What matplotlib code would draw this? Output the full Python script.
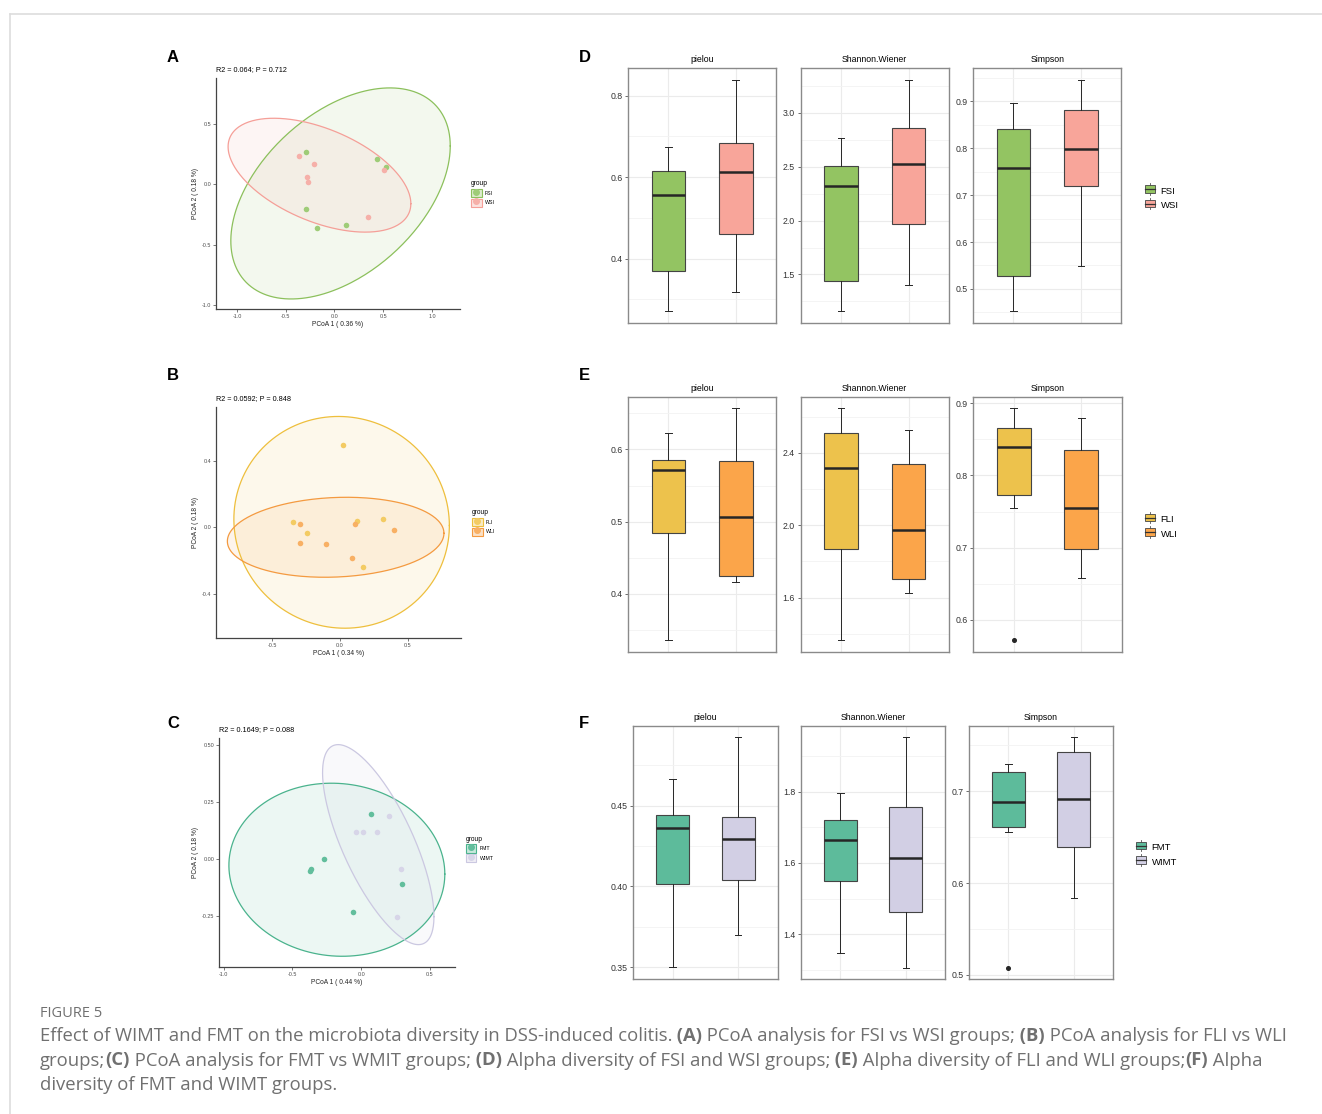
import numpy as np
import matplotlib
matplotlib.use("Agg")
import matplotlib.pyplot as plt
from matplotlib.colors import to_rgba
from matplotlib.patches import Patch, Rectangle
from matplotlib.lines import Line2D
from matplotlib.legend_handler import HandlerBase
from matplotlib.ticker import MultipleLocator, AutoMinorLocator, FormatStrFormatter

plt.rcParams.update({
    "font.family": ["Liberation Sans", "DejaVu Sans"],
    "axes.unicode_minus": False,
})

W, H = 1322, 1114

# ---------------- PCoA data ----------------
A_FSI_X = [-0.294, 0.438, 0.527, -0.297, -0.178, 0.116]
A_FSI_Y = [0.267, 0.207, 0.143, -0.207, -0.361, -0.342]
A_WSI_X = [-0.359, -0.215, -0.280, -0.274, 0.509, 0.342]
A_WSI_Y = [0.232, 0.165, 0.061, 0.019, 0.121, -0.276]
# ellipse: centre x, centre y, half-width, half-height, tilt (correlation)
A_FSI_ELL = [0.062, -0.077, 1.125, 0.873, 0.45]
A_WSI_ELL = [-0.154, 0.074, 0.937, 0.471, -0.5]

B_FLI_X = [0.022, -0.350, -0.241, 0.123, 0.315, 0.167]
B_FLI_Y = [0.496, 0.034, -0.036, 0.040, 0.048, -0.241]
B_WLI_X = [-0.296, -0.296, -0.103, 0.111, 0.399, 0.089]
B_WLI_Y = [0.018, -0.096, -0.098, 0.020, -0.018, -0.183]
B_FLI_ELL = [0.012, 0.030, 0.796, 0.638, -0.03]
B_WLI_ELL = [-0.032, -0.060, 0.800, 0.241, 0.1]

C_FMT_X = [0.068, -0.272, -0.367, -0.371, 0.299, -0.063]
C_FMT_Y = [0.199, 0.001, -0.042, -0.054, -0.111, -0.231]
C_WIMT_X = [0.201, -0.036, 0.012, 0.117, 0.289, 0.257]
C_WIMT_Y = [0.187, 0.117, 0.117, 0.117, -0.044, -0.255]
C_FMT_ELL = [-0.177, -0.047, 0.785, 0.379, -0.05]
C_WIMT_ELL = [0.124, 0.063, 0.405, 0.438, -0.72]

# ---------------- alpha diversity (whislo, q1, median, q3, whishi) ----------------
D_PIELOU_FSI = [0.271, 0.369, 0.557, 0.615, 0.675]
D_PIELOU_WSI = [0.318, 0.461, 0.612, 0.684, 0.839]
D_SHANNON_FSI = [1.162, 1.437, 2.322, 2.510, 2.767]
D_SHANNON_WSI = [1.403, 1.966, 2.520, 2.854, 3.305]
D_SIMPSON_FSI = [0.453, 0.528, 0.758, 0.842, 0.896]
D_SIMPSON_WSI = [0.548, 0.719, 0.798, 0.881, 0.946]

E_PIELOU_FLI = [0.336, 0.484, 0.571, 0.586, 0.623]
E_PIELOU_WLI = [0.417, 0.425, 0.507, 0.584, 0.658]
E_SHANNON_FLI = [1.366, 1.869, 2.317, 2.509, 2.651]
E_SHANNON_WLI = [1.624, 1.703, 1.974, 2.337, 2.525]
E_SIMPSON_FLI = [0.755, 0.773, 0.840, 0.865, 0.894]
E_SIMPSON_WLI = [0.658, 0.698, 0.755, 0.835, 0.879]
E_SIMPSON_FLI_OUT = [0.572]

F_PIELOU_FMT = [0.3499, 0.4014, 0.4363, 0.4443, 0.4666]
F_PIELOU_WIMT = [0.3699, 0.4041, 0.4293, 0.4429, 0.4922]
F_SHANNON_FMT = [1.348, 1.549, 1.665, 1.721, 1.796]
F_SHANNON_WIMT = [1.306, 1.462, 1.615, 1.756, 1.953]
F_SIMPSON_FMT = [0.6552, 0.6613, 0.6886, 0.7212, 0.7292]
F_SIMPSON_WIMT = [0.5837, 0.6396, 0.6915, 0.7430, 0.7586]
F_SIMPSON_FMT_OUT = [0.5078]

# colours
GREEN, PINK = "#93C462", "#F8A59A"
YELLOW, ORANGE = "#EDC24C", "#FBA54A"
TEAL, LAVENDER = "#5DBB9B", "#D2CFE4"

fig = plt.figure(figsize=(W / 100, H / 100), dpi=100)


def add_ax(l, t, r, b):
    return fig.add_axes([l / W, 1 - b / H, (r - l) / W, (b - t) / H])


def ellipse_xy(p, n=300):
    cx, cy, a, b, rho = p
    t = np.linspace(0, 2 * np.pi, n)
    x = cx + a * np.cos(t)
    y = cy + b * (rho * np.cos(t) + np.sqrt(1 - rho ** 2) * np.sin(t))
    return x, y


def plot_pcoa(ax, groups, title, xlab, ylab, xlim, ylim, xstep, ystep, yfmt, leg_y):
    for xs, ys, ell, pcol, lcol, lab in groups:
        ex, ey = ellipse_xy(ell)
        ax.fill(ex, ey, color=lcol, alpha=0.1, lw=0, zorder=1)
    for xs, ys, ell, pcol, lcol, lab in groups:
        ex, ey = ellipse_xy(ell)
        ax.plot(ex, ey, color=lcol, lw=0.9, zorder=2)
    for xs, ys, ell, pcol, lcol, lab in groups:
        ax.scatter(xs, ys, s=16, color=pcol, lw=0, zorder=3)
    ax.set_xlim(*xlim)
    ax.set_ylim(*ylim)
    ax.xaxis.set_major_locator(MultipleLocator(xstep))
    ax.yaxis.set_major_locator(MultipleLocator(ystep))
    ax.xaxis.set_major_formatter(FormatStrFormatter("%.1f"))
    ax.yaxis.set_major_formatter(FormatStrFormatter(yfmt))
    for s in ["top", "right"]:
        ax.spines[s].set_visible(False)
    for s in ["left", "bottom"]:
        ax.spines[s].set_color("#444444")
        ax.spines[s].set_linewidth(0.9)
    ax.tick_params(labelsize=3.9, length=2, width=0.5, color="#444444",
                   labelcolor="#4D4D4D", pad=1.5)
    ax.set_xlabel(xlab, fontsize=4.8, labelpad=1.5, color="#222222")
    ax.set_ylabel(ylab, fontsize=4.8, labelpad=2, color="#222222")
    ax.text(0, 1.02, title, transform=ax.transAxes, fontsize=5.2, ha="left", va="bottom")
    handles = [(Patch(fc=to_rgba(lcol, 0.3), ec=lcol, lw=0.8),
                Line2D([], [], marker="o", ls="", color=pcol, markersize=4))
               for xs, ys, ell, pcol, lcol, lab in groups]
    labels = [g[5] for g in groups]
    ax.legend(handles, labels, title="group", loc="center left",
              bbox_to_anchor=(1.03, leg_y), frameon=False, fontsize=3.8,
              title_fontsize=4.8, handlelength=2.0, handleheight=2.0,
              handletextpad=0.6, labelspacing=0.3, borderpad=0.2, alignment="left")


ax_a = add_ax(216, 78, 460, 309)
plot_pcoa(ax_a, [(A_FSI_X, A_FSI_Y, A_FSI_ELL, "#9FCC78", "#8CC05C", "FSI"),
                 (A_WSI_X, A_WSI_Y, A_WSI_ELL, "#F6B0A9", "#F59F98", "WSI")],
          "R2 = 0.064; P = 0.712", "PCoA 1 ( 0.36 %)", "PCoA 2 ( 0.18 %)",
          (-1.215, 1.287), (-1.033, 0.878), 0.5, 0.5, "%.1f", 0.5)

ax_b = add_ax(216, 407, 461, 638)
plot_pcoa(ax_b, [(B_FLI_X, B_FLI_Y, B_FLI_ELL, "#F3CB63", "#EEBF3D", "FLI"),
                 (B_WLI_X, B_WLI_Y, B_WLI_ELL, "#F8B064", "#F49A40", "WLI")],
          "R2 = 0.0592; P = 0.848", "PCoA 1 ( 0.34 %)", "PCoA 2 ( 0.18 %)",
          (-0.916, 0.894), (-0.667, 0.725), 0.5, 0.4, "%.1f", 0.5)

ax_c = add_ax(219, 738, 455, 967)
plot_pcoa(ax_c, [(C_FMT_X, C_FMT_Y, C_FMT_ELL, "#62BE9C", "#4AB38D", "FMT"),
                 (C_WIMT_X, C_WIMT_Y, C_WIMT_ELL, "#D7D5E8", "#CBC8E1", "WIMT")],
          "R2 = 0.1649; P = 0.088", "PCoA 1 ( 0.44 %)", "PCoA 2 ( 0.18 %)",
          (-1.034, 0.682), (-0.473, 0.530), 0.5, 0.25, "%.2f", 0.515)


# ---------------- boxplots ----------------
class BoxKey(HandlerBase):
    def create_artists(self, legend, orig, xd, yd, w, h, fontsize, trans):
        cx = xd + w / 2
        x0, x1 = xd + w * 0.1, xd + w * 0.9
        y0, y1 = yd + h * 0.05, yd + h * 0.95
        box = Rectangle((x0, y0), x1 - x0, y1 - y0, fc=orig.get_facecolor(),
                        ec="#444444", lw=0.6, transform=trans)
        med = Line2D([x0, x1], [yd + h / 2] * 2, color="#333333", lw=0.9, transform=trans)
        top = Line2D([cx, cx], [y1, y1 + h * 0.25], color="#555555", lw=0.6, transform=trans)
        bot = Line2D([cx, cx], [y0 - h * 0.25, y0], color="#555555", lw=0.6, transform=trans)
        return [top, bot, box, med]


def plot_box(ax, stats_a, stats_b, out_a, cols, name, ylim, major, fmt):
    stats = []
    for st, out in [(stats_a, out_a), (stats_b, [])]:
        stats.append(dict(whislo=st[0], q1=st[1], med=st[2], q3=st[3], whishi=st[4], fliers=out))
    bp = ax.bxp(stats, positions=[1, 2], widths=0.5, patch_artist=True, capwidths=0.1,
                boxprops=dict(ec="#444444", lw=0.8),
                medianprops=dict(color="#262626", lw=1.8),
                whiskerprops=dict(color="#262626", lw=0.7),
                capprops=dict(color="#262626", lw=0.7),
                flierprops=dict(marker="o", markersize=2.6, markerfacecolor="#262626",
                                markeredgecolor="#262626"))
    for patch, c in zip(bp["boxes"], cols):
        patch.set_facecolor(c)
    ax.set_xlim(0.4, 2.6)
    ax.set_ylim(*ylim)
    ax.yaxis.set_major_locator(MultipleLocator(major))
    ax.yaxis.set_minor_locator(AutoMinorLocator(2))
    ax.yaxis.set_major_formatter(FormatStrFormatter(fmt))
    ax.set_xticks([1, 2])
    ax.set_xticklabels([])
    ax.grid(True, which="major", color="#EBEBEB", lw=0.8)
    ax.grid(True, which="minor", axis="y", color="#F3F3F3", lw=0.6)
    ax.set_axisbelow(True)
    ax.tick_params(axis="x", length=0)
    ax.tick_params(axis="y", which="major", labelsize=6.3, length=2.5, width=0.6,
                   color="#555555", labelcolor="#333333", pad=1.5)
    ax.tick_params(axis="y", which="minor", length=0)
    for s in ax.spines.values():
        s.set_color("#8A8A8A")
        s.set_linewidth(1.0)
    ax.text(0.5, 1.032, name, transform=ax.transAxes, ha="center", va="center", fontsize=6.3)


def box_row(top, bottom, lefts, rights, data, cols, labels, ylims, majors, fmts, leg_y, leg_x):
    names = ["pielou", "Shannon.Wiener", "Simpson"]
    axes = []
    for i in range(3):
        ax = add_ax(lefts[i], top, rights[i], bottom)
        sa, sb, out = data[i]
        plot_box(ax, sa, sb, out, cols, names[i], ylims[i], majors[i], fmts[i])
        axes.append(ax)
    handles = [Patch(fc=c) for c in cols]
    fig.legend(handles, labels, loc="center left", bbox_to_anchor=(leg_x / W, 1 - leg_y / H),
               frameon=False, fontsize=6.8, handler_map={Patch: BoxKey()},
               handlelength=1.35, handleheight=0.95, handletextpad=0.45, labelspacing=0.55,
               borderpad=0.2)
    return axes


box_row(68, 322.7, [628, 800.5, 973], [776.3, 949, 1121.4],
        [(D_PIELOU_FSI, D_PIELOU_WSI, []), (D_SHANNON_FSI, D_SHANNON_WSI, []),
         (D_SIMPSON_FSI, D_SIMPSON_WSI, [])],
        [GREEN, PINK], ["FSI", "WSI"],
        [(0.243, 0.868), (1.053, 3.414), (0.428, 0.971)], [0.2, 0.5, 0.1],
        ["%.1f", "%.1f", "%.1f"], 198.5, 1137)

box_row(396.7, 651.7, [628, 800.5, 973], [776.3, 949, 1122],
        [(E_PIELOU_FLI, E_PIELOU_WLI, []), (E_SHANNON_FLI, E_SHANNON_WLI, []),
         (E_SIMPSON_FLI, E_SIMPSON_WLI, E_SIMPSON_FLI_OUT)],
        [YELLOW, ORANGE], ["FLI", "WLI"],
        [(0.320, 0.673), (1.301, 2.711), (0.556, 0.909)], [0.1, 0.4, 0.1],
        ["%.1f", "%.1f", "%.1f"], 527, 1137)

box_row(726, 979, [633.2, 801.2, 969.2], [777.5, 945, 1113],
        [(F_PIELOU_FMT, F_PIELOU_WIMT, []), (F_SHANNON_FMT, F_SHANNON_WIMT, []),
         (F_SIMPSON_FMT, F_SIMPSON_WIMT, F_SIMPSON_FMT_OUT)],
        [TEAL, LAVENDER], ["FMT", "WIMT"],
        [(0.3427, 0.4992), (1.274, 1.985), (0.4955, 0.7710)], [0.05, 0.2, 0.1],
        ["%.2f", "%.1f", "%.1f"], 855, 1128)

# panel letters
for letter, x, y in [("A", 173, 57), ("B", 173, 376), ("C", 173, 723),
                     ("D", 585, 57), ("E", 584, 376), ("F", 584, 723)]:
    fig.text(x / W, 1 - y / H, letter, fontsize=12, fontweight="bold", ha="center", va="center")

# frame lines of the page
fig.add_artist(Line2D([10 / W, 1], [1 - 14 / H] * 2, color="#DDDDDD", lw=1.2))
fig.add_artist(Line2D([10 / W] * 2, [0, 1 - 14 / H], color="#DDDDDD", lw=1.2))

# caption
CAP = "#707070"
fig.text(40 / W, 1 - 1017 / H, "FIGURE 5", fontsize=10.5, color=CAP,
         family=["Open Sans", "DejaVu Sans"], va="baseline")
cap_lines = [
    [("Effect of WIMT and FMT on the microbiota diversity in DSS-induced colitis.", False), (" (A)", True),
     (" PCoA analysis for FSI vs WSI groups;", False), (" (B)", True), (" PCoA analysis for FLI vs WLI", False)],
    [("groups;", False), ("(C)", True), (" PCoA analysis for FMT vs WMIT groups;", False), (" (D)", True),
     (" Alpha diversity of FSI and WSI groups;", False), (" (E)", True),
     (" Alpha diversity of FLI and WLI groups;", False), ("(F)", True), (" Alpha", False)],
    [("diversity of FMT and WIMT groups.", False)],
]
renderer = fig.canvas.get_renderer()
for i, runs in enumerate(cap_lines):
    x = 40
    y = 1041 + i * 24.5
    for txt, bold in runs:
        t = fig.text(x / W, 1 - y / H, txt, fontsize=13.3, color=CAP, va="baseline",
                     family=["Open Sans", "DejaVu Sans"],
                     fontweight="bold" if bold else "normal")
        x += t.get_window_extent(renderer).width

fig.savefig("out.png", dpi=100)
